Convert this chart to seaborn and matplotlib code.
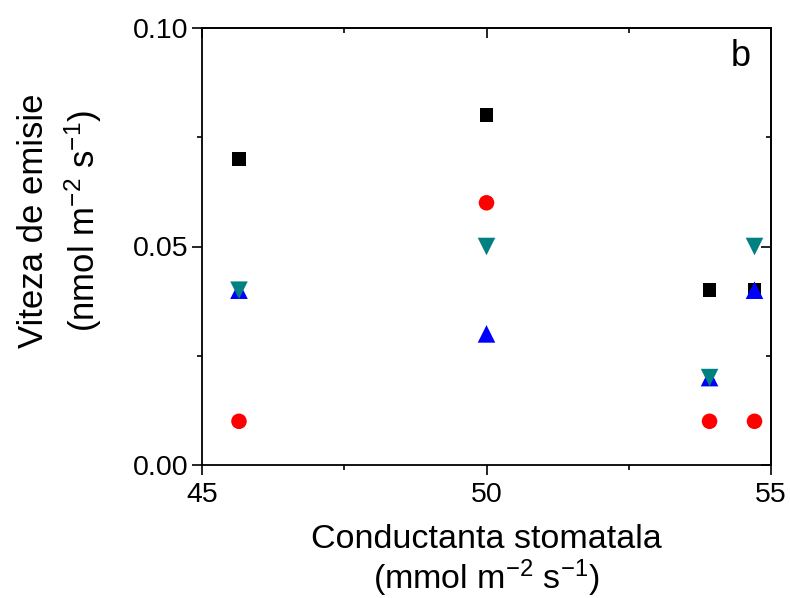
import matplotlib
matplotlib.use("Agg")
import matplotlib.pyplot as plt
import seaborn as sns
import pandas as pd
from matplotlib.ticker import MultipleLocator, FormatStrFormatter

# Data
conductance = [45.65, 50.0, 53.92, 54.71]
series_black = [0.07, 0.08, 0.04, 0.04]
series_red = [0.01, 0.06, 0.01, 0.01]
series_blue = [0.04, 0.03, 0.02, 0.04]
series_teal = [0.04, 0.05, 0.02, 0.05]

series_names = ["black", "red", "blue", "teal"]
series_values = [series_black, series_red, series_blue, series_teal]

sns.set_theme(style="ticks")
plt.rcParams['font.family'] = ['Liberation Sans', 'DejaVu Sans']
plt.rcParams['mathtext.fontset'] = 'custom'
plt.rcParams['mathtext.rm'] = 'Liberation Sans'
plt.rcParams['mathtext.it'] = 'Liberation Sans'

fig = plt.figure(figsize=(7.9, 5.98), dpi=100)
ax = fig.add_axes([202 / 790, 1 - 465 / 598, (771 - 202) / 790, (465 - 28) / 598])

styles = {
    "black": dict(color="#000000", marker="s", s=100),
    "red": dict(color="#FF0000", marker="o", s=125),
    "blue": dict(color="#0000FF", marker="^", s=160),
    "teal": dict(color="#008080", marker="v", s=160),
}

for name, vals in zip(series_names, series_values):
    df = pd.DataFrame({"x": conductance, "y": vals})
    st = styles[name]
    sns.scatterplot(data=df, x="x", y="y", ax=ax, color=st["color"],
                    marker=st["marker"], s=st["s"], edgecolor="none",
                    linewidth=0, zorder=3, legend=False)

ax.set_xlim(45, 55)
ax.set_ylim(0, 0.10)
ax.xaxis.set_major_locator(MultipleLocator(5))
ax.xaxis.set_minor_locator(MultipleLocator(2.5))
ax.yaxis.set_major_locator(MultipleLocator(0.05))
ax.yaxis.set_minor_locator(MultipleLocator(0.025))
ax.yaxis.set_major_formatter(FormatStrFormatter('%.2f'))
ax.xaxis.set_major_formatter(FormatStrFormatter('%d'))

for sp in ax.spines.values():
    sp.set_visible(True)
    sp.set_linewidth(1.3)
    sp.set_color("black")

ax.tick_params(which='both', direction='out', color='black', width=1.2,
               labelsize=20.5, labelcolor='black')
ax.tick_params(axis='x', pad=5)
ax.tick_params(axis='y', pad=3)
ax.tick_params(which='major', length=7)
ax.tick_params(which='minor', length=3.8)

secx = ax.secondary_xaxis('top')
secx.xaxis.set_major_locator(MultipleLocator(5))
secx.xaxis.set_minor_locator(MultipleLocator(2.5))
secx.tick_params(which='both', direction='in', labeltop=False, width=1.2, color='black')
secx.tick_params(which='major', length=7)
secx.tick_params(which='minor', length=3.8)
secx.spines['top'].set_linewidth(1.3)

secy = ax.secondary_yaxis('right')
secy.yaxis.set_major_locator(MultipleLocator(0.05))
secy.yaxis.set_minor_locator(MultipleLocator(0.025))
secy.tick_params(which='both', direction='in', labelright=False, width=1.2, color='black')
secy.tick_params(which='major', length=7)
secy.tick_params(which='minor', length=3.8)
secy.spines['right'].set_linewidth(1.3)

ax.set_xlabel("Conductanta stomatala\n(mmol m$^{-2}$ s$^{-1}$)", fontsize=24.5,
              linespacing=1.08, color='black', labelpad=12)
ax.set_ylabel("Viteza de emisie\n(nmol m$^{-2}$ s$^{-1}$)", fontsize=25,
              linespacing=1.4, color='black')
ax.yaxis.set_label_coords(-0.172, 0.558)

ax.text(0.946, 0.934, "b", transform=ax.transAxes, fontsize=26,
        ha='center', va='center', color='black')

fig.savefig("out.png", dpi=100)
